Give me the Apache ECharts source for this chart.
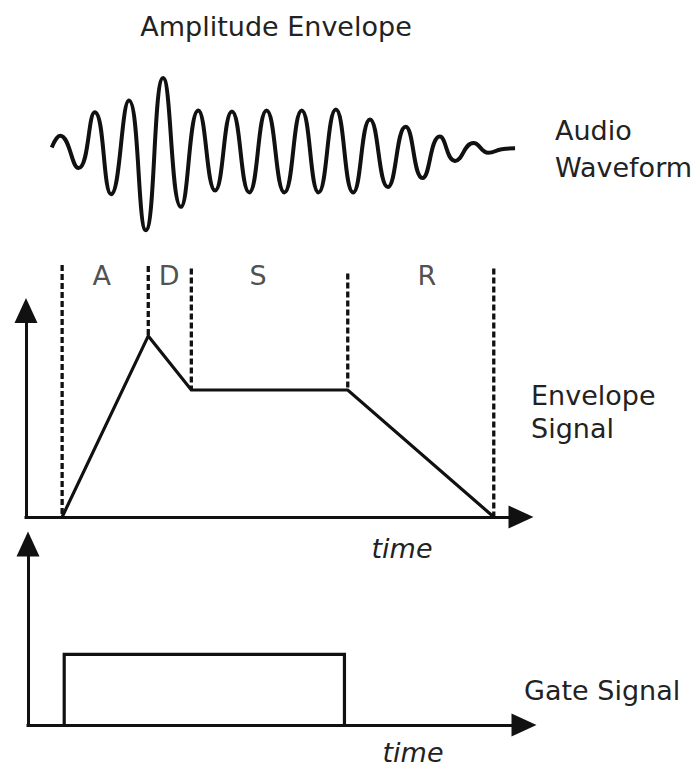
<!DOCTYPE html>
<html>
<head>
<meta charset="utf-8">
<script src="https://cdn.jsdelivr.net/npm/echarts@6/dist/echarts.min.js"></script>
<style>html,body{margin:0;padding:0;background:#fff}#c{width:700px;height:770px}</style>
</head>
<body>
<div id="c"></div>
<script>
// ---- data (time axis shared: 0..100 units) ----
const waveTime = [5.2, 6.9, 10.6, 13.9, 17.2, 20.8, 24.2, 27.7, 31.3, 34.8, 38.2, 41.6, 45.1, 48.6, 52.2, 55.7, 59.1, 62.6, 66.1, 69.5, 73.1, 76.7, 80.1, 83.6, 86.7, 90.4, 93.4, 96.1, 98.8];
const waveAmp  = [0.04, 0.17, -0.19, 0.43, -0.48, 0.56, -0.88, 0.81, -0.62, 0.45, -0.44, 0.44, -0.46, 0.45, -0.46, 0.45, -0.46, 0.46, -0.46, 0.35, -0.40, 0.27, -0.30, 0.16, -0.11, 0.09, -0.02, 0.02, 0.03];

const envTime  = [7.3, 24.7, 33.4, 65.0, 94.5];
const envLevel = [0, 0.877, 0.615, 0.615, 0];

const markerTime   = [7.3, 24.7, 33.4, 65.0, 94.5];
const markerBottom = [0, 0.877, 0.615, 0.615, 0];
const markerTop    = [1.22, 1.215, 1.203, 1.179, 1.203];

const phaseNames     = ['A', 'D', 'S', 'R'];
const phaseLabelTime = [15.3, 28.9, 46.9, 81.0];
const phaseLabelLevel = 1.17;

const gateTime  = [7.3, 63.8];
const gateLevel = 0.39;

// ---- chart ----
const FONT = '"DejaVu Sans", sans-serif';
const INK = '#111';
const TXT = '#222';

const chart = echarts.init(document.getElementById('c'), null, {renderer: 'svg'});

function arrowAxis(gridIndex, extra) {
  return Object.assign({
    gridIndex: gridIndex,
    type: 'value',
    axisLine: {
      show: true,
      symbol: ['none', 'triangle'],
      symbolSize: [23, 25],
      lineStyle: {color: INK, width: 3, cap: 'square'}
    },
    axisTick: {show: false},
    axisLabel: {show: false},
    splitLine: {show: false}
  }, extra);
}

const markerSeries = markerTime.map((t, i) => ({
  type: 'line',
  xAxisIndex: 1, yAxisIndex: 1,
  data: [[t, markerTop[i]], [t, markerBottom[i]]],
  symbol: 'none',
  clip: false,
  silent: true,
  lineStyle: {color: INK, width: 3.3, type: [6, 3]},
  z: 2
}));

const option = {
  backgroundColor: '#fff',
  animation: false,
  grid: [
    {left: 26, top: 61, width: 495, height: 180},
    {left: 26, top: 310.5, width: 495, height: 206.5},
    {left: 28, top: 544, width: 496, height: 181}
  ],
  xAxis: [
    {gridIndex: 0, type: 'value', min: 0, max: 100, show: false},
    arrowAxis(1, {min: 0, max: 100}),
    arrowAxis(2, {min: 0, max: 100})
  ],
  yAxis: [
    {gridIndex: 0, type: 'value', min: -1, max: 1, show: false},
    arrowAxis(1, {min: 0, max: 1}),
    arrowAxis(2, {min: 0, max: 1})
  ],
  series: [
    {
      type: 'line',
      xAxisIndex: 0, yAxisIndex: 0,
      data: waveTime.map((t, i) => [t, waveAmp[i]]),
      smooth: 0.5,
      symbol: 'none',
      clip: false,
      silent: true,
      lineStyle: {color: INK, width: 4}
    },
    {
      type: 'line',
      xAxisIndex: 1, yAxisIndex: 1,
      data: envTime.map((t, i) => [t, envLevel[i]]),
      symbol: 'none',
      silent: true,
      lineStyle: {color: INK, width: 3.2, join: 'miter'},
      z: 3
    },
    ...markerSeries,
    {
      type: 'scatter',
      xAxisIndex: 1, yAxisIndex: 1,
      data: phaseLabelTime.map((t, i) => ({name: phaseNames[i], value: [t, phaseLabelLevel]})),
      symbolSize: 0.01,
      clip: false,
      silent: true,
      itemStyle: {color: 'rgba(0,0,0,0)'},
      label: {show: true, position: 'inside', formatter: '{b}', color: TXT, fontSize: 27, fontFamily: FONT}
    },
    {
      type: 'line',
      xAxisIndex: 2, yAxisIndex: 2,
      data: [[gateTime[0], 0], [gateTime[0], gateLevel], [gateTime[1], gateLevel], [gateTime[1], 0]],
      symbol: 'none',
      silent: true,
      lineStyle: {color: INK, width: 3.2, join: 'miter'}
    }
  ],
  graphic: [
    {type: 'text', x: 276, y: 26, style: {text: 'Amplitude Envelope', fill: TXT, font: '27px ' + FONT, align: 'center', verticalAlign: 'middle'}},
    {type: 'text', x: 555, y: 111.5, style: {text: 'Audio\nWaveform', fill: TXT, font: '27px ' + FONT, align: 'left', verticalAlign: 'top', lineHeight: 37}},
    {type: 'text', x: 531, y: 379, style: {text: 'Envelope\nSignal', fill: TXT, font: '27px ' + FONT, align: 'left', verticalAlign: 'top', lineHeight: 33}},
    {type: 'text', x: 524, y: 690, style: {text: 'Gate Signal', fill: TXT, font: '27px ' + FONT, align: 'left', verticalAlign: 'middle'}},
    {type: 'text', x: 402, y: 548, style: {text: 'time', fill: TXT, font: 'italic 27px ' + FONT, align: 'center', verticalAlign: 'middle'}},
    {type: 'text', x: 413, y: 752, style: {text: 'time', fill: TXT, font: 'italic 27px ' + FONT, align: 'center', verticalAlign: 'middle'}}
  ]
};

chart.setOption(option);
</script>
</body>
</html>
